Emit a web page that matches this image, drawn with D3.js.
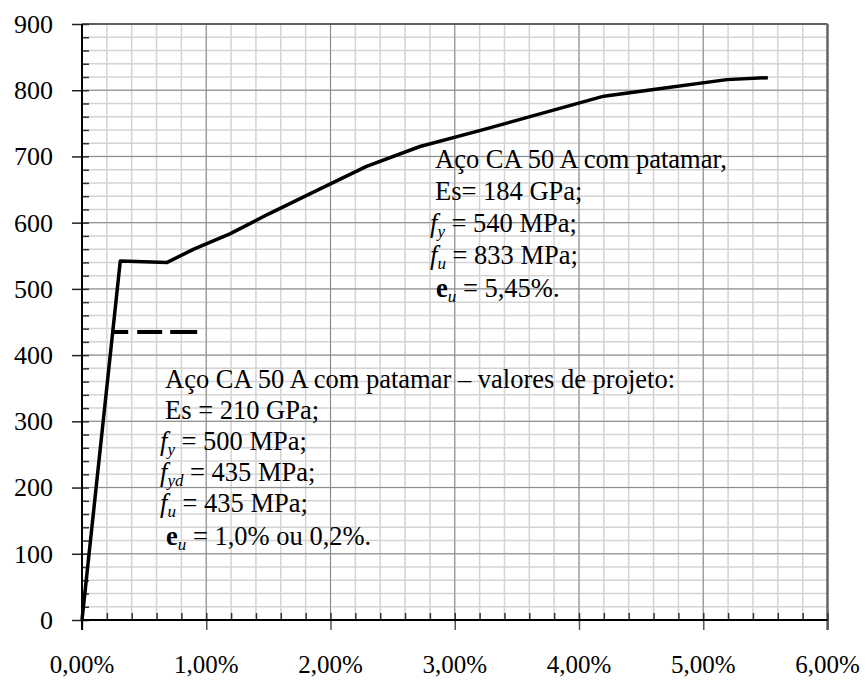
<!DOCTYPE html>
<html>
<head>
<meta charset="utf-8">
<script src="https://cdn.jsdelivr.net/npm/d3@7"></script>
<style>
  body { margin: 0; background: #fff; }
  text { font-family: "Liberation Serif", "Times New Roman", serif; fill: #000; }
</style>
</head>
<body>
<div id="chart"></div>
<script>
/* tensao x deformacao - aco CA 50 A */

// ensaio (deformacao %, tensao MPa)
var strainTest = [0, 0.308, 0.685, 0.90, 1.19, 1.50, 1.85, 2.29, 2.72, 3.20, 4.20, 4.60, 5.19, 5.52];
var stressTest = [0, 542, 540, 560, 583, 613, 645, 685, 715, 739, 791, 801, 816, 819];

// valores de projeto (patamar)
var strainPlateau = [0.235, 0.93];
var stressPlateau = [435, 435];

var xTicks = [0, 1, 2, 3, 4, 5, 6];
var yTicks = [0, 100, 200, 300, 400, 500, 600, 700, 800, 900];

var margin = {top: 24, right: 39.5, bottom: 61, left: 82},
	width = 867 - margin.left - margin.right,
	height = 681 - margin.top - margin.bottom;

var svg = d3.select("#chart")
	.append("svg")
	.attr("width", 867)
	.attr("height", 681);

var g = svg.append("g")
	.attr("transform", "translate(" + margin.left + "," + margin.top + ")");

var x = d3.scaleLinear().domain([0, 6]).range([0, width]);
var y = d3.scaleLinear().domain([0, 900]).range([height, 0]);

var xMinor = d3.range(0, 6.001, 0.2);
var yMinor = d3.range(0, 900.1, 20);

/* grade */
g.append("g").selectAll("line")
	.data(xMinor)
	.enter().append("line")
	.attr("x1", function(d) { return x(d); })
	.attr("x2", function(d) { return x(d); })
	.attr("y1", 0).attr("y2", height)
	.style("stroke", "#d4d4d4").style("stroke-width", 1.5);

g.append("g").selectAll("line")
	.data(yMinor)
	.enter().append("line")
	.attr("y1", function(d) { return y(d); })
	.attr("y2", function(d) { return y(d); })
	.attr("x1", 0).attr("x2", width)
	.style("stroke", "#d4d4d4").style("stroke-width", 1.5);

g.append("g").selectAll("line")
	.data(xTicks)
	.enter().append("line")
	.attr("x1", function(d) { return x(d); })
	.attr("x2", function(d) { return x(d); })
	.attr("y1", 0).attr("y2", height)
	.style("stroke", "#8a8a8a").style("stroke-width", 1);

g.append("g").selectAll("line")
	.data(yTicks)
	.enter().append("line")
	.attr("y1", function(d) { return y(d); })
	.attr("y2", function(d) { return y(d); })
	.attr("x1", 0).attr("x2", width)
	.style("stroke", "#8a8a8a").style("stroke-width", 1);

// borda superior e direita
g.append("line").attr("x1", 0).attr("x2", width).attr("y1", y(900)).attr("y2", y(900))
	.style("stroke", "#444").style("stroke-width", 1.5);
g.append("line").attr("x1", x(6)).attr("x2", x(6)).attr("y1", 0).attr("y2", height + 10)
	.style("stroke", "#666").style("stroke-width", 2.5);

/* eixos */
var xAxis = d3.axisBottom(x).tickValues(xTicks).tickSize(10).tickFormat("");
var yAxis = d3.axisLeft(y).tickValues(yTicks).tickSize(10).tickFormat("");

var gx = g.append("g").attr("transform", "translate(0," + height + ")").call(xAxis);
var gy = g.append("g").call(yAxis);
gx.select(".domain").remove();
gy.select(".domain").remove();
gx.selectAll("line").style("stroke", "#555").style("stroke-width", 1.5);
gy.selectAll("line").style("stroke", "#222").style("stroke-width", 1.5);

// ticks menores para dentro
g.append("g").attr("transform", "translate(0," + height + ")")
	.call(d3.axisTop(x).tickValues(xMinor).tickSize(7).tickFormat(""))
	.call(function(s) { s.select(".domain").remove(); s.selectAll("line").style("stroke", "#333").style("stroke-width", 1.5); });
g.append("g")
	.call(d3.axisRight(y).tickValues(yMinor).tickSize(7).tickFormat(""))
	.call(function(s) { s.select(".domain").remove(); s.selectAll("line").style("stroke", "#333").style("stroke-width", 1.5); });

g.append("line").attr("x1", 0).attr("x2", width).attr("y1", height).attr("y2", height)
	.style("stroke", "#000").style("stroke-width", 2);
g.append("line").attr("x1", 0).attr("x2", 0).attr("y1", 0).attr("y2", height + 10)
	.style("stroke", "#000").style("stroke-width", 2);

// rotulos
g.append("g").selectAll("text")
	.data(yTicks)
	.enter().append("text")
	.attr("x", -29)
	.attr("y", function(d) { return y(d); })
	.attr("dy", "0.34em")
	.style("text-anchor", "end")
	.style("font-size", "26px")
	.text(function(d) { return d; });

g.append("g").selectAll("text")
	.data(xTicks)
	.enter().append("text")
	.attr("x", function(d) { return x(d); })
	.attr("y", height + 53)
	.style("text-anchor", "middle")
	.style("font-size", "25px")
	.text(function(d) { return d3.format(".2f")(d).replace(".", ",") + "%"; });

/* curvas */
var line = d3.line()
	.x(function(d) { return x(d[0]); })
	.y(function(d) { return y(d[1]); });

g.append("path")
	.datum(d3.zip(strainPlateau, stressPlateau))
	.attr("d", line)
	.style("fill", "none").style("stroke", "#000").style("stroke-width", 4)
	.style("stroke-dasharray", "17,9,25,8,27,40");

g.append("path")
	.datum(d3.zip(strainTest, stressTest))
	.attr("d", line)
	.style("fill", "none").style("stroke", "#000").style("stroke-width", 3.5)
	.style("stroke-linejoin", "round");

/* anotacoes */
function annot(x0, y0, dy, lines) {
	lines.forEach(function(l, i) {
		var t = svg.append("text")
			.attr("x", x0 + (l.dx || 0))
			.attr("y", y0 + i * dy + (l.dy || 0))
			.style("font-size", "26.5px");
		l.parts.forEach(function(p) {
			var ts = t.append("tspan").text(p.t);
			if (p.i) ts.style("font-style", "italic");
			if (p.b) ts.style("font-weight", "bold");
			if (p.sub) ts.style("font-size", "17px").attr("dy", 5);
			if (p.up) ts.attr("dy", -5);
		});
	});
}

annot(435, 168, 32, [
	{parts: [{t: "Aço CA 50 A com patamar,"}]},
	{parts: [{t: "Es= 184 GPa;"}]},
	{dx: -5, parts: [{t: "f", i: 1}, {t: "y", i: 1, sub: 1}, {t: " = 540 MPa;", up: 1}]},
	{dx: -5, parts: [{t: "f", i: 1}, {t: "u", i: 1, sub: 1}, {t: " = 833 MPa;", up: 1}]},
	{dx: 1, dy: 1, parts: [{t: "e", b: 1}, {t: "u", i: 1, sub: 1}, {t: " = 5,45%.", up: 1}]}
]);

annot(165, 388, 31, [
	{parts: [{t: "Aço CA 50 A com patamar – valores de projeto:"}]},
	{parts: [{t: "Es = 210 GPa;"}]},
	{dx: -5, parts: [{t: "f", i: 1}, {t: "y", i: 1, sub: 1}, {t: " = 500 MPa;", up: 1}]},
	{dx: -5, parts: [{t: "f", i: 1}, {t: "yd", i: 1, sub: 1}, {t: " = 435 MPa;", up: 1}]},
	{dx: -5, parts: [{t: "f", i: 1}, {t: "u", i: 1, sub: 1}, {t: " = 435 MPa;", up: 1}]},
	{dx: 1, dy: 2, parts: [{t: "e", b: 1}, {t: "u", i: 1, sub: 1}, {t: " = 1,0% ou 0,2%.", up: 1}]}
]);
</script>
</body>
</html>
